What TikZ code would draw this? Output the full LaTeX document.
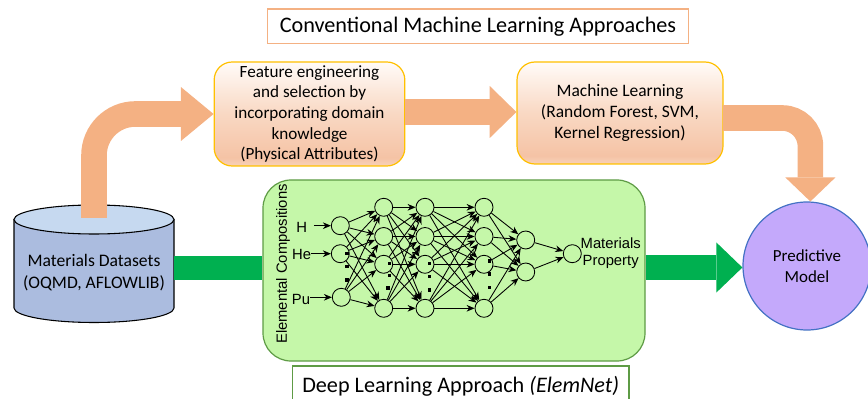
\documentclass[tikz,border=0pt]{standalone}
\usepackage{fontspec}
\setmainfont{Carlito}
\newfontfamily\netfont{Liberation Sans}
\usetikzlibrary{arrows.meta}
\definecolor{boxt}{HTML}{FFFBF8}
\definecolor{boxm}{HTML}{F9D8C3}
\definecolor{boxc}{HTML}{F5C3A5}
\definecolor{boxb}{HTML}{F8D2BA}
\definecolor{orangearrow}{HTML}{F4B183}
\definecolor{greenarrow}{HTML}{00B050}
\definecolor{boxgreen}{HTML}{C5F7A9}
\definecolor{edgegreen}{HTML}{5E9B45}
\definecolor{purplefill}{HTML}{C4A9FB}
\definecolor{bluedge}{HTML}{4472C4}
\definecolor{cylbody}{HTML}{ABBCDF}
\definecolor{cyltop}{HTML}{C6D9F0}
\definecolor{goldedge}{HTML}{FFC000}
\pgfdeclareverticalshading{boxgrad}{100bp}{color(0bp)=(boxb);color(25bp)=(boxb);color(29bp)=(boxc);color(50bp)=(boxm);color(75bp)=(boxt);color(100bp)=(boxt)}
\tikzset{
  procbox/.style={draw=goldedge,line width=0.9pt,rounded corners=13.5pt,shading=boxgrad,align=center,inner sep=0pt},
  titlebox/.style={line width=1pt,fill=white,inner sep=0pt,align=center,font=\fontsize{16.65pt}{19pt}\selectfont},
  bigorange/.style={draw=orangearrow,line width=19.2pt},
  biggreen/.style={draw=greenarrow,line width=18pt},
  neuron/.style={draw,circle,minimum size=13.5pt,inner sep=0pt,line width=0.65pt},
  netedge/.style={line width=0.65pt,-{Stealth[length=6pt,width=5pt]}},
  netlabel/.style={inner sep=0pt,font=\netfont\fontsize{11.1pt}{12.9pt}\selectfont,align=center},
  netdot/.style={fill=black,inner sep=0pt,minimum size=2.6pt}
}
\begin{document}
\begin{tikzpicture}[x=0.75pt,y=-0.75pt]
\useasboundingbox (0,0) rectangle (868,399);
\clip (0,0) rectangle (868,399);
% titles
\node[titlebox,draw=orangearrow,minimum width=316pt,minimum height=26pt] (conv) at (478,26.5) {Conventional Machine Learning Approaches};
% process boxes
\node[procbox,minimum width=143pt,minimum height=78pt,font=\fontsize{12.85pt}{15.5pt}\selectfont] (fe) at (309.5,114) {Feature engineering\\and selection by\\incorporating domain\\knowledge\\(Physical Attributes)};
\node[procbox,minimum width=154.5pt,minimum height=76.5pt,font=\fontsize{13.1pt}{15.6pt}\selectfont] (ml) at (620,113) {Machine Learning\\(Random Forest, SVM,\\Kernel Regression)};
% network panel
\node[draw=edgegreen,line width=0.9pt,fill=boxgreen,rounded corners=21pt,minimum width=286.5pt,minimum height=135.75pt,inner sep=0pt] (nn) at (454,270.5) {};
% predictive model
\node[draw=bluedge,line width=0.9pt,fill=purplefill,circle,minimum size=96pt,inner sep=0pt,align=center,font=\fontsize{12.7pt}{15.5pt}\selectfont] (pm) at (807,266) {Predictive\\Model};
% data cylinder
\draw[line width=0.8pt,fill=cylbody] (14,219.5) -- (14,308) arc[start angle=180,end angle=0,x radius=80,y radius=14.5] -- (174,219.5) -- cycle;
\draw[line width=0.8pt,fill=cyltop] (94,219.5) ellipse[x radius=80,y radius=14.5];
\node[inner sep=0pt,minimum width=120pt,minimum height=88pt,align=center,font=\fontsize{13.2pt}{16.2pt}\selectfont] (ds) at (94,272.5) {Materials Datasets\\(OQMD, AFLOWLIB)};
% block arrows
\coordinate (dsout) at (94,218);
\coordinate (mlout) at (723,118);
\draw[bigorange,rounded corners=31pt,-{Triangle[length=24.5pt,width=40.5pt,line width=0pt]}] (dsout) |- (fe.west);
\draw[bigorange,-{Triangle[length=20pt,width=39pt,line width=0pt]}] (fe.east |- 0,112) -- (ml.west |- 0,112);
\draw[bigorange,rounded corners=21pt,-{Triangle[length=18pt,width=37.5pt,line width=0pt]}] (mlout) -| (pm.87);
\draw[biggreen] (ds.east |- 0,268) -- (nn.west |- 0,268);
\draw[biggreen,-{Triangle[length=19.5pt,width=37.5pt,line width=0pt]}] (nn.east |- 0,267.5) -- (pm.west |- 0,267.5);
% network
\node[neuron] (a1) at (340.3,225.7) {};
\node[neuron] (a2) at (340.3,253.7) {};
\node[neuron] (a3) at (341.3,297.3) {};
\foreach \n/\x in {b/383.7,c/425,d/484}{
  \node[neuron] (\n1) at (\x,207.3) {};
  \node[neuron] (\n2) at (\x,236.5) {};
  \node[neuron] (\n3) at (\x,264.3) {};
  \node[neuron] (\n4) at (\x,308.3) {};
}
\node[neuron] (e1) at (525.7,240) {};
\node[neuron] (e2) at (525.7,272) {};
\node[neuron] (f1) at (572.3,253.7) {};
\foreach \i in {1,2,3}\foreach \j in {1,2,3,4}\draw[netedge] (a\i) -- (b\j);
\foreach \i in {1,2,3,4}\foreach \j in {1,2,3,4}{\draw[netedge] (b\i) -- (c\j);\draw[netedge] (c\i) -- (d\j);}
\foreach \i in {1,2,3,4}\foreach \j in {1,2}\draw[netedge] (d\i) -- (e\j);
\foreach \j in {1,2}\draw[netedge] (e\j) -- (f1);
\node[netlabel,anchor=base] (lh) at (301.7,232.5) {H};
\node[netlabel,anchor=base] (lhe) at (301.7,260) {He};
\node[netlabel,anchor=base] (lpu) at (301,304.5) {Pu};
\draw[netedge,shorten <=5pt] (lh.east |- a1) -- (a1);
\draw[netedge] (lhe.east |- a2) -- (a2);
\draw[netedge] (lpu.east |- a3) -- (a3);
\node[netlabel,rotate=90] (lec) at (283,264) {Elemental Compositions};
\node[netlabel] (lmp) at (610.7,253.5) {Materials\\Property};
\foreach \x/\y [count=\k] in {347/253.7,347/266.7,347/280,389.7/263.3,389.7/275.7,388/288,429.7/263.7,429.7/276.7,429.7/290,489.7/261,489.7/274,489.7/287.3}
  \node[netdot] (dot\k) at (\x,\y) {};
\node[titlebox,draw=edgegreen,minimum width=252.5pt,minimum height=30pt] (deep) at (460.7,386) {Deep Learning Approach \textit{(ElemNet)}};
\end{tikzpicture}
\end{document}
